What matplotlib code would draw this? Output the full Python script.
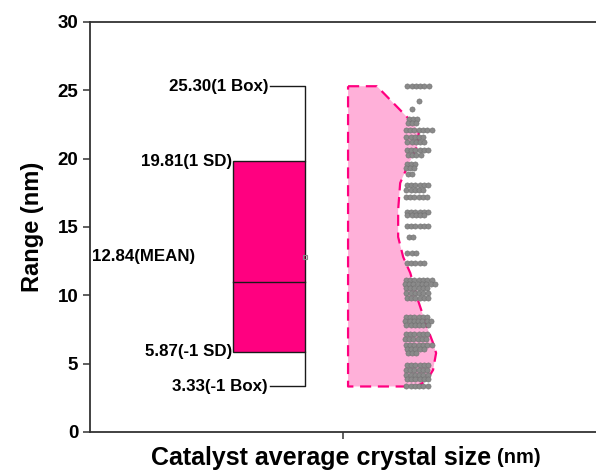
import numpy as np
import matplotlib.pyplot as plt

plt.rcParams['font.family'] = ['Liberation Sans', 'DejaVu Sans']
plt.rcParams['font.weight'] = 'bold'

# summary statistics of the box
box_hi = 25.30
sd_hi = 19.81
mean_val = 12.84
median_val = 10.95
sd_lo = 5.87
box_lo = 3.33

# half-violin outline (value, half width in axis units)
violin_y = [25.30, 22.61, 21.95, 20.85, 19.39, 18.22, 16.24, 14.27, 12.80,
            11.63, 9.66, 7.68, 6.51, 5.78, 4.54, 3.80, 3.36, 3.33]
violin_w = [0.057, 0.128, 0.140, 0.136, 0.117, 0.103, 0.099, 0.099, 0.109,
            0.123, 0.138, 0.156, 0.168, 0.174, 0.168, 0.156, 0.138, 0.125]

# raw data rows: value and number of points at that value
row_vals = [25.30, 24.2, 23.6, 22.9, 22.6, 22.1, 21.6, 21.2, 20.6, 20.3,
            19.6, 19.3, 18.9, 18.1, 17.7, 17.2, 16.1, 15.9, 15.1, 14.3,
            13.1, 12.4, 11.1, 10.8, 10.5, 10.2, 9.8, 8.4, 8.1, 7.8,
            7.2, 6.8, 6.4, 6.1, 5.8, 4.9, 4.5, 4.2, 3.9, 3.33]
row_counts = [6, 1, 1, 3, 3, 7, 5, 5, 6, 4,
              3, 3, 2, 6, 5, 6, 6, 5, 6, 2,
              3, 5, 7, 8, 6, 6, 6, 6, 7, 6,
              6, 6, 7, 5, 3, 6, 6, 6, 6, 6]
row_start = [1.127, 1.150, 1.137, 1.130, 1.128, 1.124, 1.125, 1.127, 1.126, 1.128,
             1.126, 1.124, 1.128, 1.126, 1.125, 1.124, 1.126, 1.127, 1.126, 1.130,
             1.127, 1.126, 1.124, 1.122, 1.124, 1.125, 1.126, 1.124, 1.123, 1.125,
             1.124, 1.122, 1.124, 1.126, 1.128, 1.126, 1.124, 1.125, 1.126, 1.125]

fig = plt.figure(figsize=(5.96, 4.73), dpi=100)
ax = fig.add_axes([0.151, 0.0867, 0.849, 0.8668])

pink = '#FF0080'
light = '#FFB0D9'
edge = '#1a1a1a'

# box (mean +/- 1 SD)
bl, br = 0.7826, 0.925
ax.add_patch(plt.Rectangle((bl, sd_lo), br - bl, sd_hi - sd_lo,
                           facecolor=pink, edgecolor=edge, lw=1.0, zorder=2))
ax.plot([bl, br], [median_val, median_val], color=edge, lw=1.0, zorder=3)
# whiskers as brackets on the right edge
wl = 0.856
ax.plot([wl, br, br], [box_hi, box_hi, sd_hi], color=edge, lw=1.0, zorder=3)
ax.plot([wl, br, br], [box_lo, box_lo, sd_lo], color=edge, lw=1.0, zorder=3)
ax.plot([br], [mean_val], marker='s', ms=3.5, mfc='none', mec='#888888',
        mew=0.8, zorder=4)

fs = 12.2
ax.text(wl - 0.004, box_hi, f'{box_hi:.2f}(1 Box)', ha='right', va='center', fontsize=fs)
ax.text(bl - 0.002, sd_hi, f'{sd_hi:.2f}(1 SD)', ha='right', va='center', fontsize=fs)
ax.text(0.503, mean_val, f'{mean_val:.2f}(MEAN)', ha='left', va='center', fontsize=fs)
ax.text(bl - 0.002, sd_lo, f'{sd_lo:.2f}(-1 SD)', ha='right', va='center', fontsize=fs)
ax.text(wl - 0.004, box_lo, f'{box_lo:.2f}(-1 Box)', ha='right', va='center', fontsize=fs)

# half violin
base = 1.010
vx = [base] + [base + w for w in violin_w] + [base, base]
vy = [violin_y[0]] + violin_y + [violin_y[-1], violin_y[0]]
ax.fill(vx, vy, facecolor=light, edgecolor='none', zorder=1)
ax.plot(vx, vy, color=pink, lw=1.6, ls=(0, (5, 3)), zorder=2)

# raw points
px, py = [], []
for v, n, s in zip(row_vals, row_counts, row_start):
    for i in range(n):
        px.append(s + i * 0.0085)
        py.append(v)
ax.scatter(px, py, s=14, color='#8a8a8a', edgecolors='#707070', linewidths=0.4, zorder=5)

ax.set_xlim(0.5, 1.5)
ax.set_ylim(0, 30)
ax.set_yticks([0, 5, 10, 15, 20, 25, 30])
ax.set_xticks([1])
ax.set_xticklabels([''])
ax.tick_params(axis='both', direction='out', length=5, width=1.1, color='#333333',
               labelsize=13.5)
for lab in ax.get_yticklabels():
    lab.set_fontweight('bold')
for side in ['left', 'bottom', 'top']:
    ax.spines[side].set_linewidth(1.3)
    ax.spines[side].set_color('#333333')
ax.spines['right'].set_visible(False)

ax.set_ylabel('Range (nm)', fontsize=17, fontweight='bold', labelpad=10)
fig.text(0.824, 0.032, 'Catalyst average crystal size', ha='right', va='center',
         fontsize=18, fontweight='bold')
fig.text(0.834, 0.032, '(nm)', ha='left', va='center', fontsize=14.5, fontweight='bold')

fig.savefig('out.png', dpi=100)
